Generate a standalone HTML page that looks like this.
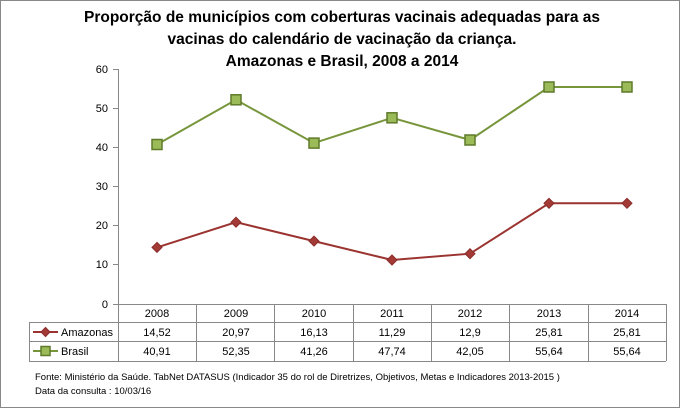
<!DOCTYPE html>
<html><head><meta charset="utf-8"><style>
body{margin:0;width:680px;height:408px;background:#fff;font-family:"Liberation Sans",sans-serif}
</style></head><body>
<svg width="680" height="408" xmlns="http://www.w3.org/2000/svg" font-family="Liberation Sans, sans-serif">
<rect x="0.5" y="0.5" width="679" height="407" fill="#fff" stroke="#888"/>
<g font-weight="bold" font-size="15.5" text-anchor="middle" fill="#000">
<text x="342" y="22">Proporção de municípios com coberturas vacinais adequadas para as</text>
<text x="342" y="44">vacinas do calendário de vacinação da criança.</text>
<text x="342" y="66">Amazonas e Brasil, 2008 a 2014</text>
</g>
<g stroke="#888" stroke-width="1">
<line x1="118.5" y1="69" x2="118.5" y2="361"/>
<line x1="113" y1="69.5" x2="118" y2="69.5"/>
<line x1="113" y1="108.5" x2="118" y2="108.5"/>
<line x1="113" y1="147.5" x2="118" y2="147.5"/>
<line x1="113" y1="186.5" x2="118" y2="186.5"/>
<line x1="113" y1="225.5" x2="118" y2="225.5"/>
<line x1="113" y1="264.5" x2="118" y2="264.5"/>
<line x1="113" y1="304.5" x2="666" y2="304.5"/>
<line x1="29" y1="322.5" x2="666" y2="322.5"/>
<line x1="29" y1="341.5" x2="666" y2="341.5"/>
<line x1="29" y1="361.5" x2="666" y2="361.5"/>
<line x1="29.5" y1="322" x2="29.5" y2="361"/>
<line x1="196.5" y1="304" x2="196.5" y2="361"/>
<line x1="274.5" y1="304" x2="274.5" y2="361"/>
<line x1="353.5" y1="304" x2="353.5" y2="361"/>
<line x1="431.5" y1="304" x2="431.5" y2="361"/>
<line x1="509.5" y1="304" x2="509.5" y2="361"/>
<line x1="588.5" y1="304" x2="588.5" y2="361"/>
<line x1="666.5" y1="304" x2="666.5" y2="361"/>
</g>
<g font-size="11" text-anchor="end" fill="#000">
<text x="108" y="73">60</text><text x="108" y="112">50</text><text x="108" y="151">40</text>
<text x="108" y="190">30</text><text x="108" y="229">20</text><text x="108" y="268">10</text><text x="108" y="308">0</text>
</g>
<g font-size="11" text-anchor="middle" fill="#000">
<text x="157" y="317">2008</text><text x="236" y="317">2009</text><text x="314" y="317">2010</text><text x="392" y="317">2011</text><text x="470" y="317">2012</text><text x="549" y="317">2013</text><text x="627" y="317">2014</text>
<text x="157" y="336">14,52</text><text x="236" y="336">20,97</text><text x="314" y="336">16,13</text><text x="392" y="336">11,29</text><text x="470" y="336">12,9</text><text x="549" y="336">25,81</text><text x="627" y="336">25,81</text>
<text x="157" y="355">40,91</text><text x="236" y="355">52,35</text><text x="314" y="355">41,26</text><text x="392" y="355">47,74</text><text x="470" y="355">42,05</text><text x="549" y="355">55,64</text><text x="627" y="355">55,64</text>
</g>
<g font-size="11" fill="#000"><text x="61" y="336">Amazonas</text><text x="61" y="355">Brasil</text></g>
<polyline points="157,247.4 236,222.2 314,241.1 392,260 470,253.7 549,203.3 627,203.3" fill="none" stroke="#9b3431" stroke-width="2"/>
<polyline points="157,144.5 236,99.8 314,143.1 392,117.8 470,140 549,87 627,87" fill="none" stroke="#77963c" stroke-width="2"/>
<g fill="#a33a36" stroke="#8a2c2a">
<path d="M157 242.4l5 5-5 5-5-5z"/><path d="M236 217.2l5 5-5 5-5-5z"/><path d="M314 236.1l5 5-5 5-5-5z"/><path d="M392 255l5 5-5 5-5-5z"/><path d="M470 248.7l5 5-5 5-5-5z"/><path d="M549 198.3l5 5-5 5-5-5z"/><path d="M627 198.3l5 5-5 5-5-5z"/>
</g>
<g fill="#9bbb59" stroke="#5f7a2a" stroke-width="1.5">
<rect x="152" y="139.5" width="10" height="10"/><rect x="231" y="94.8" width="10" height="10"/><rect x="309" y="138.1" width="10" height="10"/><rect x="387" y="112.8" width="10" height="10"/><rect x="465" y="135" width="10" height="10"/><rect x="544" y="82" width="10" height="10"/><rect x="622" y="82" width="10" height="10"/>
</g>
<line x1="33" y1="332" x2="58" y2="332" stroke="#9b3431" stroke-width="2"/>
<path d="M45.5 327.5l4.5 4.5-4.5 4.5-4.5-4.5z" fill="#a33a36" stroke="#8a2c2a"/>
<line x1="33" y1="351" x2="58" y2="351" stroke="#77963c" stroke-width="2"/>
<rect x="41" y="346.5" width="9" height="9" fill="#9bbb59" stroke="#5f7a2a" stroke-width="1.5"/>
<g font-size="9.5" fill="#000">
<text x="35" y="380">Fonte: Ministério da Saúde. TabNet DATASUS (Indicador 35 do rol de Diretrizes, Objetivos, Metas e Indicadores 2013-2015 )</text>
<text x="35" y="394">Data da consulta : 10/03/16</text>
</g>
</svg>
</body></html>
